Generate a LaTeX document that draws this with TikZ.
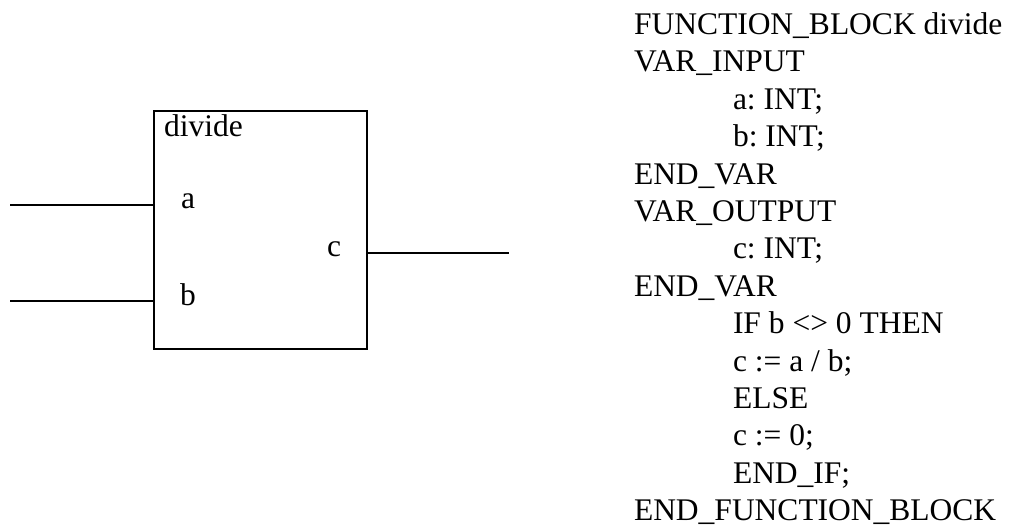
\documentclass[tikz,border=0pt]{standalone}
\usepackage{fontspec}
\setmainfont{Liberation Serif}
\begin{document}
\frenchspacing
\begin{tikzpicture}[x=1pt,y=-1pt,line width=2pt,
	blockbox/.style={draw,rectangle,anchor=north west,inner sep=0pt,minimum width=213pt,minimum height=238pt},
	pinlabel/.style={anchor=base west,inner sep=0pt,font=\fontsize{31.5}{37.8}\selectfont},
	codeline/.style={anchor=base west,inner sep=0pt,font=\fontsize{31.5}{37.8}\selectfont}]
	\useasboundingbox (0,0) rectangle (1012,529);

	% function block
	\node [blockbox] (fb) at (153,110) {};
	\node [pinlabel] (fbname) at (163,137) {divide};
	\node [pinlabel] (pina) at (180,209) {a};
	\node [pinlabel] (pinb) at (179,306) {b};
	\node [pinlabel] (pinc) at (326,257) {c};

	\coordinate (ina) at (10,205);
	\coordinate (inb) at (10,301);
	\coordinate (outc) at (509,253);
	\draw (ina) -- (fb.west |- ina) (inb) -- (fb.west |- inb);
	\draw (fb.east |- outc) -- (outc);

	% structured text
	\foreach \ind/\txt [count=\row from 0] in {0/{FUNCTION\_BLOCK divide},0/{VAR\_INPUT},1/{a: INT;},1/{b: INT;},
		0/{END\_VAR},0/{VAR\_OUTPUT},1/{c: INT;},0/{END\_VAR},1/{IF b <> 0 THEN},1/{c := a / b;},
		1/{ELSE},1/{c := 0;},1/{END\_IF;},0/{END\_FUNCTION\_BLOCK}}
		\node [codeline] (code\row) at (633+99*\ind,34.5+37.4*\row) {\txt};
\end{tikzpicture}
\end{document}
